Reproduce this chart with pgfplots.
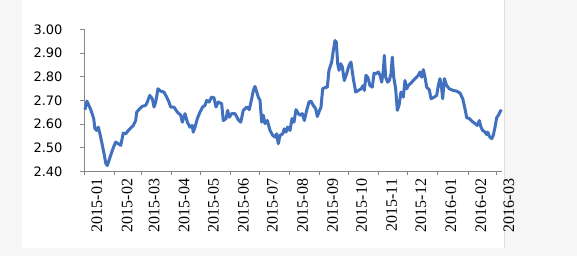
\documentclass[border=0pt]{standalone}
\usepackage{pgfplots}
\pgfplotsset{compat=1.18}
\usepackage{fontspec}
\setmainfont{Liberation Serif}
\newfontfamily\ylabfont{DejaVu Sans}
\definecolor{linecol}{RGB}{65,113,190}
\definecolor{axcol}{RGB}{134,134,134}
\definecolor{bgcol}{RGB}{246,246,246}
\begin{document}
\begin{tikzpicture}
\fill[bgcol] (-84bp,-85bp) rectangle (493bp,171bp);
\fill[white] (-62bp,-77bp) rectangle (420bp,171bp);
\draw[gray!25, line width=0.8bp] (420.5bp,-77bp) -- (420.5bp,171bp);
\path[use as bounding box] (-84bp,-85bp) rectangle (493bp,171bp);
\begin{axis}[
  scale only axis,
  width=418bp, height=142bp,
  xmin=0, xmax=431.2,
  ymin=2.4, ymax=3.0,
  axis x line*=bottom, axis y line*=left,
  axis line style={axcol, line width=0.7bp},
  tick style={axcol, line width=0.7bp},
  tick align=outside,
  major tick length=4bp,
  xtick={0,31,59,90,120,151,181,212,243,273,304,334,365,396,425},
  xticklabels={2015-01,2015-02,2015-03,2015-04,2015-05,2015-06,2015-07,2015-08,2015-09,2015-10,2015-11,2015-12,2016-01,2016-02,2016-03},
  xticklabel style={rotate=90, anchor=east, font=\fontsize{16bp}{17bp}\selectfont, yshift=-13bp, xshift=0bp},
  ytick={2.4,2.5,2.6,2.7,2.8,2.9,3.0},
  yticklabel style={font=\fontsize{13bp}{14bp}\ylabfont, xshift=-14bp, /pgf/number format/fixed, /pgf/number format/fixed zerofill, /pgf/number format/precision=2},
  /pgf/number format/assume math mode=true,
  clip=false,
]
\addplot[linecol, line width=3bp, line join=round] coordinates {
(1,2.661)(3,2.697)(5,2.679)(7,2.661)(10,2.623)(11.3,2.580)(13.1,2.573)(14.8,2.587)
(17.2,2.545)(19.3,2.503)(21.4,2.460)(22.4,2.435)(24,2.425)(25.8,2.446)(27.5,2.468)
(30.2,2.500)(32.7,2.524)(35.4,2.517)(37.9,2.510)(40.5,2.562)(43,2.559)(46.4,2.576)
(50.9,2.594)(53.3,2.615)(54.4,2.651)(56.7,2.661)(60.1,2.675)(63.6,2.679)(65.3,2.693)
(67.8,2.721)(70.5,2.707)(72.2,2.672)(74,2.693)(76.3,2.749)(79.1,2.739)(82.5,2.735)
(85.3,2.714)(87.7,2.693)(89.4,2.672)(92.8,2.672)(96.2,2.651)(99.8,2.637)(101.4,2.608)
(104.2,2.644)(106.6,2.608)(109.3,2.587)(111.7,2.594)(112.7,2.566)(114.5,2.587)
(116.9,2.623)(119.7,2.651)(122.4,2.672)(124.8,2.679)(126.6,2.700)(129,2.693)
(131.7,2.714)(134.1,2.711)(136.2,2.672)(138.5,2.693)(142,2.686)(143.7,2.615)
(146.5,2.623)(148.2,2.658)(149.9,2.629)(152.4,2.644)(155.8,2.644)(159.2,2.618)
(161.7,2.608)(164.3,2.658)(167.8,2.672)(170.5,2.661)(173,2.707)(174.7,2.742)
(176.4,2.759)(178.2,2.735)(179.8,2.714)(181.6,2.700)(183.3,2.608)(185,2.637)
(186.7,2.602)(189.1,2.615)(191.9,2.573)(194.7,2.552)(197,2.545)(198.8,2.559)
(200.4,2.517)(202.2,2.552)(205,2.559)(206.6,2.580)(208.4,2.566)(210.1,2.587)
(212.5,2.573)(214.6,2.623)(216.6,2.608)(218.7,2.661)(221.1,2.644)(222.8,2.637)
(225.2,2.644)(227.3,2.615)(229.7,2.658)(232.1,2.693)(234.2,2.697)(236.5,2.679)
(239,2.665)(240.7,2.632)(242.4,2.651)(244.5,2.672)(246.2,2.749)(248.6,2.754)
(251,2.756)(252.7,2.827)(255.5,2.862)(257.2,2.911)(258.9,2.953)(260.3,2.946)
(261.7,2.855)(263.1,2.827)(264.8,2.855)(266.5,2.841)(268.5,2.784)(271,2.813)
(273.4,2.848)(275.4,2.862)(277.8,2.792)(280.3,2.735)(283,2.742)(285.8,2.749)
(288.1,2.763)(289.2,2.742)(290.9,2.806)(292.7,2.798)(295,2.763)(297.4,2.756)
(299.2,2.815)(301.2,2.813)(303.6,2.820)(305.4,2.806)(307.1,2.777)(308.8,2.827)
(309.8,2.890)(311.2,2.798)(313.2,2.777)(314.9,2.784)(316.7,2.813)(318,2.883)
(319.5,2.798)(321.5,2.749)(323.2,2.658)(325,2.679)(327,2.735)(329.4,2.714)
(331.1,2.784)(332.9,2.749)(334.6,2.763)(338.1,2.777)(341.5,2.792)(344.9,2.806)
(346.6,2.820)(348.4,2.798)(350,2.830)(351.8,2.798)(353.5,2.756)(356.2,2.745)
(358,2.707)(361.4,2.714)(363.8,2.721)(365.5,2.763)(367.2,2.792)(369,2.749)
(370,2.707)(371.7,2.792)(374.1,2.763)(376.8,2.749)(381,2.742)(384.5,2.739)
(387.9,2.731)(390.7,2.707)(393,2.665)(394.8,2.627)(397.5,2.623)(400,2.613)
(403.4,2.602)(405.7,2.594)(407.8,2.615)(409.5,2.587)(411.3,2.573)(413.7,2.566)
(415.4,2.556)(416.5,2.566)(418.1,2.548)(420.6,2.538)(422.2,2.552)(424,2.587)
(425.7,2.627)(427.4,2.637)(429.1,2.651)(430.5,2.661)
};
\end{axis}
\end{tikzpicture}
\end{document}
